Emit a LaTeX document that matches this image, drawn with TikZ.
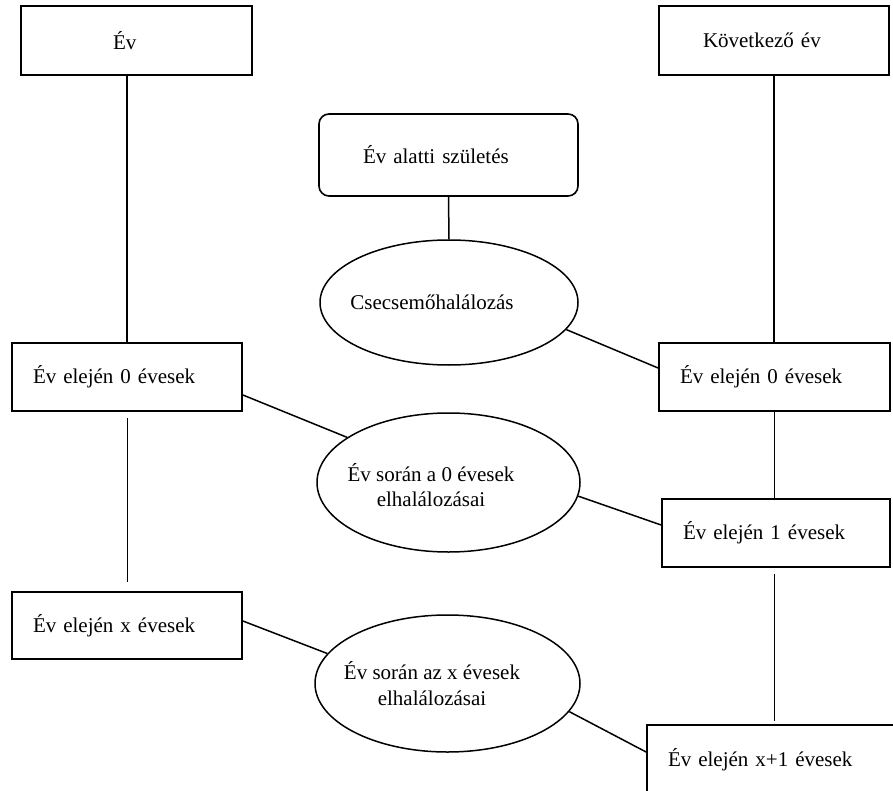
\documentclass[tikz,border=0pt]{standalone}
\usepackage{fontspec}
\setmainfont{Liberation Serif}
\usetikzlibrary{shapes.geometric,calc}
\begin{document}
\begin{tikzpicture}[x=1pt,y=-1pt, font=\fontsize{21}{25.2}\selectfont,
  box/.style={draw, line width=1.8pt, rectangle, align=left, inner ysep=0pt},
  ell/.style={draw, line width=1.5pt, ellipse, inner sep=0pt},
  conn/.style={line width=1.5pt},
  thinline/.style={line width=0.9pt}]
\useasboundingbox (0,0) rectangle (893,791);
\clip (0,0) rectangle (893,791);

\node[box, minimum width=231pt, minimum height=69pt, text width=47pt, inner xsep=92pt] (ev) at (136.5,40.5) {Év};
\node[box, minimum width=230pt, minimum height=69pt, text width=142pt, inner xsep=44pt] (kov) at (774,40.5) {Következő év};
\node[box, rounded corners=10pt, line width=1.6pt, minimum width=259pt, minimum height=82pt, text width=171pt, inner xsep=44pt] (szul) at (448.5,155) {Év alatti születés};

\node[ell, minimum width=258pt, minimum height=125pt] (e1) at (449,302.5) {};
\node (t1) at (432,302) {Csecsemőhalálozás};

\node[box, minimum width=230pt, minimum height=68pt, text width=188pt, inner xsep=21pt] (lb0) at (127,377) {Év elején 0 évesek};
\node[box, minimum width=231pt, minimum height=68pt, text width=189pt, inner xsep=21pt] (rb0) at (774.5,377) {Év elején 0 évesek};

\node[ell, minimum width=263pt, minimum height=139pt] (e2) at (448.5,482.5) {};
\node[align=center] (t2) at (431,485) {Év során a 0 évesek\\elhalálozásai};

\node[box, minimum width=228pt, minimum height=68pt, text width=186pt, inner xsep=21pt] (rb1) at (776,533) {Év elején 1 évesek};
\node[box, minimum width=230pt, minimum height=67pt, text width=188pt, inner xsep=21pt] (lbx) at (127,625.5) {Év elején x évesek};

\node[ell, minimum width=265pt, minimum height=137pt] (e3) at (447.5,683.5) {};
\node[align=center] (t3) at (432,683.5) {Év során az x évesek\\elhalálozásai};

\node[box, minimum width=260pt, minimum height=70pt, text width=218pt, inner xsep=21pt] (bx1) at (777,760) {Év elején x+1 évesek};

\draw[conn] (ev.south -| lb0.north) -- (lb0.north);
\draw[conn] (kov.south) -- (kov.south |- rb0.north);
\draw[conn] (szul.south) -- (e1.north);
\draw[conn] (e1.-13.6) -- ($(rb0.west)+(0,-9)$);
\draw[conn] ($(lb0.east)+(0,18)$) -- (e2.156.7);
\draw[thinline] ($(lb0.south)+(0,6)$) -- ($(lbx.north)+(0,-9)$);
\draw[conn] (rb0.south) -- (rb0.south |- rb1.north);
\draw[conn] (e2.-6.4) -- ($(rb1.west)+(0,-8)$);
\draw[thinline] ($(rb0.south |- rb1.south)+(0,6)$) -- ($(rb0.south |- bx1.north)+(0,-3)$);
\draw[conn] ($(lbx.east)+(0,-4.5)$) -- (e3.166.7);
\draw[conn] (e3.-13.9) -- ($(bx1.west)+(0,-8)$);
\end{tikzpicture}
\end{document}
